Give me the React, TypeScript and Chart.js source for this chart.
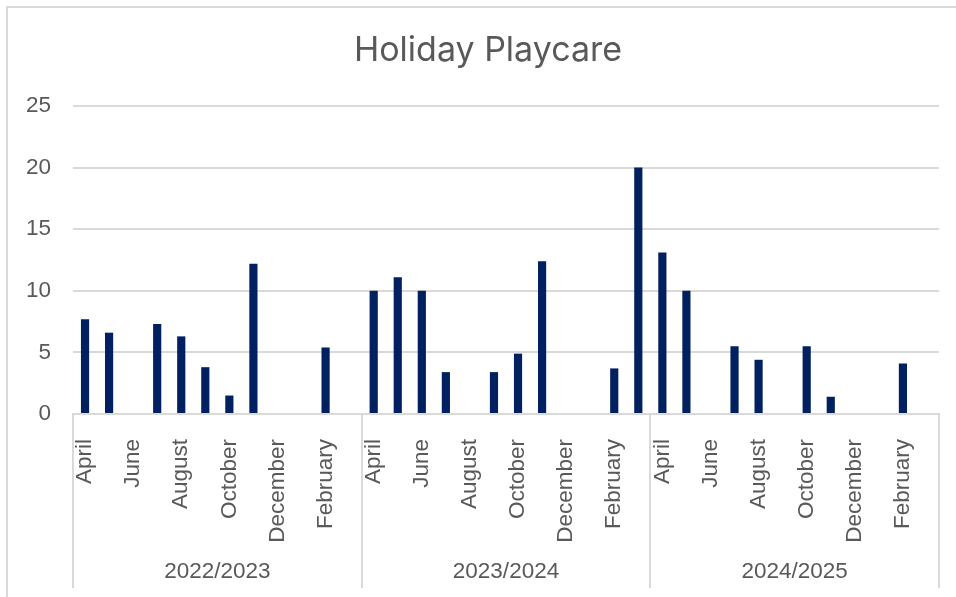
import React, { useEffect, useRef } from "react";
import { Chart, registerables } from "chart.js";

Chart.register(...registerables);

const months = [
  "April", "May", "June", "July", "August", "September",
  "October", "November", "December", "January", "February", "March",
];
const years = ["2022/2023", "2023/2024", "2024/2025"];
const values2022 = [7.7, 6.6, 0, 7.3, 6.3, 3.8, 1.5, 12.2, 0, 0, 5.4, 0];
const values2023 = [10, 11.1, 10, 3.4, 0, 3.4, 4.9, 12.4, 0, 0, 3.7, 20];
const values2024 = [13.1, 10, 0, 5.5, 4.4, 0, 5.5, 1.4, 0, 0, 4.1, 0];
const yTicks = [0, 5, 10, 15, 20, 25];
const titleText = "Holiday Playcare";

const TEXT = "#595959";
const LINE = "#d9d9d9";
const BAR = "#002060";
const TICK_FONT = { family: "'Liberation Sans', Arial, sans-serif", size: 22.5 };
const TITLE_FONT = "34px Inter, 'Open Sans', sans-serif";

const frameAndGroupsPlugin = {
  id: "frameAndGroups",
  afterDraw(chart: any) {
    const ctx = chart.ctx;
    const x = chart.scales.x;
    const n = months.length;
    const bounds: number[] = [x.left];
    for (let g = 1; g < years.length; g++) {
      const i = g * n;
      bounds.push((x.getPixelForValue(i - 1) + x.getPixelForValue(i)) / 2);
    }
    bounds.push(x.right);
    ctx.save();
    ctx.strokeStyle = LINE;
    ctx.lineWidth = 2;
    const bottom = 588;
    bounds.forEach((b) => {
      ctx.beginPath();
      ctx.moveTo(Math.round(b), x.top);
      ctx.lineTo(Math.round(b), bottom);
      ctx.stroke();
    });
    ctx.fillStyle = TEXT;
    ctx.font = `${TICK_FONT.size}px ${TICK_FONT.family}`;
    ctx.textAlign = "center";
    ctx.textBaseline = "middle";
    years.forEach((yr, g) => {
      ctx.fillText(yr, (bounds[g] + bounds[g + 1]) / 2, 572);
    });
    // chart title
    ctx.font = TITLE_FONT;
    ctx.fillText(titleText, 488, 51);
    // outer chart frame (left and top edges)
    ctx.beginPath();
    ctx.moveTo(7, chart.height);
    ctx.lineTo(7, 7);
    ctx.lineTo(chart.width, 7);
    ctx.stroke();
    ctx.restore();
  },
};

export default function App() {
  const ref = useRef<HTMLCanvasElement>(null);
  useEffect(() => {
    if (!ref.current) return;
    const labels: string[] = [];
    years.forEach(() => months.forEach((m) => labels.push(m)));
    const data = [...values2022, ...values2023, ...values2024];
    const chart = new Chart(ref.current, {
      type: "bar",
      data: {
        labels,
        datasets: [
          {
            label: titleText,
            data,
            backgroundColor: BAR,
            barPercentage: 0.34,
            categoryPercentage: 1,
          },
        ],
      },
      options: {
        responsive: false,
        animation: false,
        devicePixelRatio: 1,
        layout: { padding: { left: 8, right: 17, top: 106, bottom: 0 } },
        plugins: {
          legend: { display: false },
          tooltip: { enabled: false },
          title: { display: false },
        },
        scales: {
          x: {
            grid: { display: false },
            border: { display: true, color: LINE, width: 2 },
            ticks: {
              autoSkip: false,
              minRotation: 90,
              maxRotation: 90,
              padding: 17,
              color: TEXT,
              font: TICK_FONT,
              callback: (_v: any, i: number) => (i % 2 === 0 ? labels[i] : ""),
            },
            afterFit: (s: any) => {
              s.height = 183;
              s.paddingLeft = 0;
              s.paddingRight = 0;
            },
          },
          y: {
            min: 0,
            max: 25,
            afterBuildTicks: (s: any) => {
              s.ticks = yTicks.map((v) => ({ value: v }));
            },
            grid: { color: LINE, lineWidth: 2, drawTicks: false },
            border: { display: false },
            ticks: { padding: 22, color: TEXT, font: TICK_FONT },
            afterFit: (s: any) => {
              s.width = 65;
              s.paddingTop = 0;
              s.paddingBottom = 0;
            },
          },
        },
      },
      plugins: [frameAndGroupsPlugin],
    });
    return () => chart.destroy();
  }, []);
  return (
    <div style={{ position: "absolute", left: 0, top: 0, width: 956, height: 597, background: "#fff" }}>
      <canvas ref={ref} width={956} height={597} style={{ display: "block" }} />
    </div>
  );
}
